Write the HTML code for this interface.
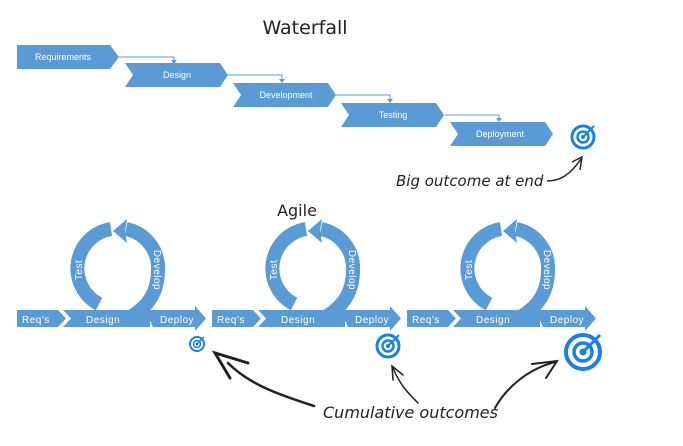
<!DOCTYPE html>
<html><head><meta charset="utf-8"><style>
html,body{margin:0;padding:0;background:#fff;}
svg{display:block;}
.w{fill:#fff;font-family:"Liberation Sans",sans-serif;}
.h{font-family:"DejaVu Sans","Liberation Sans",sans-serif;fill:#222;}
</style></head><body>
<svg width="683" height="446" viewBox="0 0 683 446" xmlns="http://www.w3.org/2000/svg">
<defs>
<g id="unit">
  <path d="M111,229 A40,40 0 0 0 99,304" fill="none" stroke="#5b9bd5" stroke-width="14"/>
  <path d="M132,316 C150,305 158,290 158,270 A40,40 0 0 0 126,229" fill="none" stroke="#5b9bd5" stroke-width="14"/>
  <polygon points="113,231 127,219 125,231 127,243" fill="#5b9bd5"/>
  <polygon points="17,310 58,310 66,318.5 58,327 17,327" fill="#5b9bd5"/>
  <text x="22" y="323" class="w" font-size="10" letter-spacing="0.5">Req’s</text>
  <polygon points="63,310 150,310 150,327 63,327 71,318.5" fill="#5b9bd5"/>
  <text x="86" y="323" class="w" font-size="10" letter-spacing="0.5">Design</text>
  <polygon points="145,310 195,310 195,306 206,318.5 195,331 195,327 153,327" fill="#5b9bd5"/>
  <text x="160" y="323" class="w" font-size="10" letter-spacing="0.5">Deploy</text>
  <text transform="translate(82,270) rotate(-90)" text-anchor="middle" class="w" font-size="10" letter-spacing="0.5">Test</text>
  <text transform="translate(154,270) rotate(90)" text-anchor="middle" class="w" font-size="10" letter-spacing="0.5">Develop</text>
</g>
<g id="chev">
  <polygon points="0,0 95,0 103,12 95,24 0,24 8,12" fill="#5b9bd5"/>
</g>
</defs>

<text x="305" y="34" text-anchor="middle" class="h" font-size="19">Waterfall</text>

<polygon points="17,45 110,45 119,57 110,69 17,69" fill="#5b9bd5"/>
<text x="63" y="60" text-anchor="middle" class="w" font-size="9">Requirements</text>
<use href="#chev" x="125" y="63"/>
<text x="177" y="78" text-anchor="middle" class="w" font-size="9">Design</text>
<use href="#chev" x="233" y="83"/>
<text x="286" y="98" text-anchor="middle" class="w" font-size="9">Development</text>
<use href="#chev" x="341" y="103"/>
<text x="393" y="118" text-anchor="middle" class="w" font-size="9">Testing</text>
<use href="#chev" x="450" y="122"/>
<text x="500" y="137" text-anchor="middle" class="w" font-size="9">Deployment</text>
<g fill="none" stroke="#5b9bd5" stroke-width="1">
<path d="M119,57 H174 V62"/><path d="M228,75 H282 V82"/><path d="M336,95 H390 V102"/><path d="M445,115 H499 V121"/>
</g>
<g fill="#5b9bd5">
<polygon points="171,60 177,60 174,64"/><polygon points="279,79 285,79 282,83"/><polygon points="387,99 393,99 390,103"/><polygon points="496,118 502,118 499,122"/>
</g>

<g fill="none" stroke="#1a7fe8">
<circle cx="583" cy="137" r="11" stroke-width="3"/><circle cx="583" cy="137" r="5.5" stroke-width="2.5"/>
</g>
<circle cx="583" cy="137" r="2" fill="#1a7fe8"/>
<path d="M583,137 L594,126" stroke="#1a7fe8" stroke-width="2"/>
<text x="396" y="186" class="h" font-size="15" font-style="italic">Big outcome at end</text>
<path d="M547,181 C560,181 570,175 581,159" fill="none" stroke="#222" stroke-width="1.5"/>
<path d="M572,162 L582,157 L580,170" fill="none" stroke="#222" stroke-width="1.5"/>

<text x="297" y="216" text-anchor="middle" class="h" font-size="16">Agile</text>

<use href="#unit" x="0" y="0"/>
<use href="#unit" x="195" y="0"/>
<use href="#unit" x="390" y="0"/>

<g fill="none" stroke="#1a7fe8">
<circle cx="197" cy="344" r="7" stroke-width="2"/><circle cx="197" cy="344" r="3.5" stroke-width="1.5"/>
<circle cx="388" cy="346" r="11" stroke-width="3"/><circle cx="388" cy="346" r="5.5" stroke-width="2.5"/>
<circle cx="583" cy="352" r="17" stroke-width="4"/><circle cx="583" cy="352" r="9" stroke-width="3.5"/>
</g>
<g fill="#1a7fe8">
<circle cx="197" cy="344" r="1.5"/><circle cx="388" cy="346" r="2"/><circle cx="583" cy="352" r="3.5"/>
</g>
<g stroke="#1a7fe8" fill="none">
<path d="M197,344 L204,337" stroke-width="1.5"/>
<path d="M388,346 L399,335" stroke-width="2"/>
<path d="M583,352 L600,335" stroke-width="3"/>
</g>

<text x="323" y="418" class="h" font-size="16" font-style="italic">Cumulative outcomes</text>
<g fill="none" stroke="#222" stroke-linecap="round">
<path d="M314,406 C280,395 250,385 228,363" stroke-width="2.5"/>
<path d="M230,378 L215,353 L248,363" stroke-width="3"/>
<path d="M418,403 C408,393 400,385 393,368" stroke-width="1.5"/>
<path d="M393,380 L392,366 L403,375" stroke-width="1.5"/>
<path d="M495,408 C505,390 525,370 555,362" stroke-width="2"/>
<path d="M532,364 L557,361 L546,378" stroke-width="2"/>
</g>
</svg>
</body></html>
